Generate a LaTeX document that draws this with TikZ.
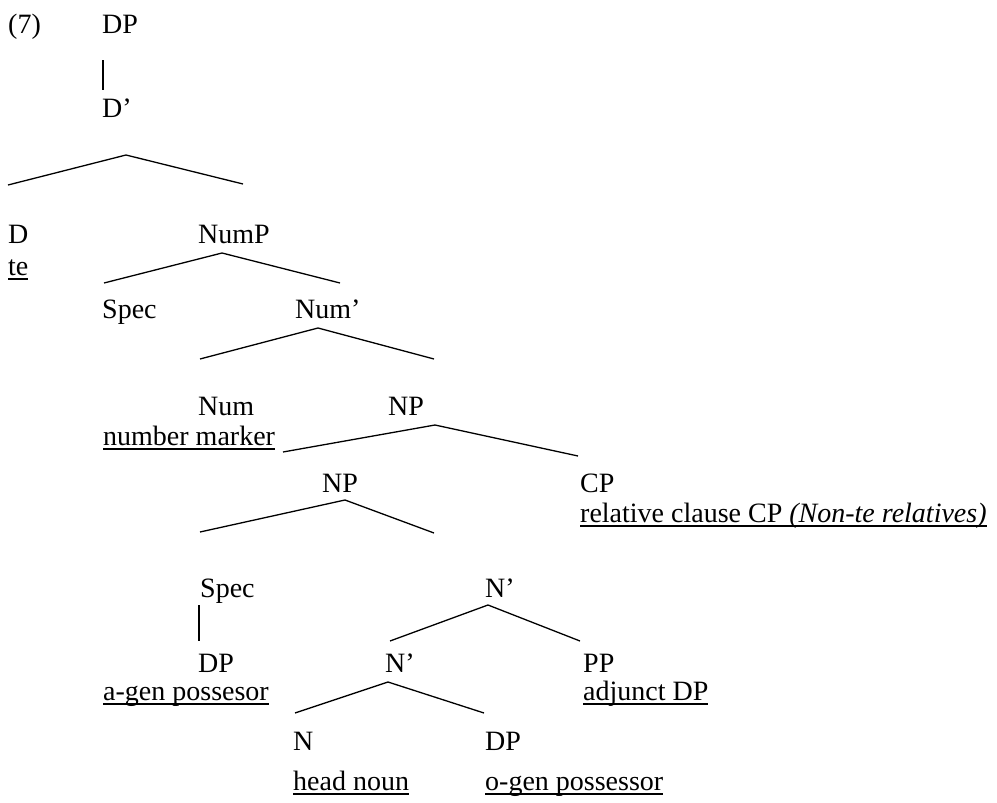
\documentclass[tikz,border=0pt]{standalone}
\usepackage{fontspec}
\setmainfont{Liberation Serif}
% underline drawn at a fixed depth below the baseline
\newcommand{\undl}[1]{\setbox0\hbox{#1}\rlap{\rule[-4.5pt]{\wd0}{1.3pt}}\box0}
\begin{document}
\begin{tikzpicture}[x=1pt,y=-1pt,
  lbl/.style={anchor=base west,inner sep=0pt,font=\fontsize{28}{33}\selectfont},
  branch/.style={line width=1.3pt,line join=miter}]
\useasboundingbox (0,0) rectangle (997,803);

% labels
\node[lbl] (ex)     at (8,33)    {(7)};
\node[lbl] (dp)     at (102,33)  {DP};
\node[lbl] (dbar)   at (102,117) {D’};
\node[lbl] (d)      at (8,243)   {D};
\node[lbl] (te)     at (8,275)   {\undl{te}};
\node[lbl] (nump)   at (198,243) {NumP};
\node[lbl] (spec1)  at (102,318) {Spec};
\node[lbl] (numbar) at (295,318) {Num’};
\node[lbl] (num)    at (198,415) {Num};
\node[lbl] (nummk)  at (103,445) {\undl{number marker}};
\node[lbl] (np1)    at (388,415) {NP};
\node[lbl] (np2)    at (322,492) {NP};
\node[lbl] (cp)     at (580,492) {CP};
\node[lbl] (rel)    at (580,522) {\undl{relative clause CP \textit{(Non-te relatives)}}};
\node[lbl] (spec2)  at (200,597) {Spec};
\node[lbl] (nbar1)  at (485,597) {N’};
\node[lbl] (dp2)    at (198,672) {DP};
\node[lbl] (agen)   at (103,700) {\undl{a-gen possesor}};
\node[lbl] (nbar2)  at (385,672) {N’};
\node[lbl] (pp)     at (583,672) {PP};
\node[lbl] (adj)    at (583,700) {\undl{adjunct DP}};
\node[lbl] (n)      at (293,750) {N};
\node[lbl] (dp3)    at (485,750) {DP};
\node[lbl] (head)   at (293,790) {\undl{head noun}};
\node[lbl] (ogen)   at (485,790) {\undl{o-gen possessor}};

% unary branches
\coordinate (dp-bot)    at (103,60);
\coordinate (dbar-top)  at (103,90);
\draw[branch] (dp-bot) -- (dbar-top);
\coordinate (spec2-bot) at (199,605);
\coordinate (dp2-top)   at (199,641);
\draw[branch] (spec2-bot) -- (dp2-top);

% binary branches
\coordinate (b1) at (126,155); \coordinate (b1l) at (8,185);   \coordinate (b1r) at (243,184);
\draw[branch] (b1l) -- (b1) -- (b1r);
\coordinate (b2) at (222,253); \coordinate (b2l) at (104,283); \coordinate (b2r) at (340,283);
\draw[branch] (b2l) -- (b2) -- (b2r);
\coordinate (b3) at (318,328); \coordinate (b3l) at (200,359); \coordinate (b3r) at (434,359);
\draw[branch] (b3l) -- (b3) -- (b3r);
\coordinate (b4) at (435,425); \coordinate (b4l) at (283,452); \coordinate (b4r) at (578,456);
\draw[branch] (b4l) -- (b4) -- (b4r);
\coordinate (b5) at (345,500); \coordinate (b5l) at (200,532); \coordinate (b5r) at (434,533);
\draw[branch] (b5l) -- (b5) -- (b5r);
\coordinate (b6) at (488,605); \coordinate (b6l) at (390,641); \coordinate (b6r) at (580,641);
\draw[branch] (b6l) -- (b6) -- (b6r);
\coordinate (b7) at (388,682); \coordinate (b7l) at (295,713); \coordinate (b7r) at (484,713);
\draw[branch] (b7l) -- (b7) -- (b7r);
\end{tikzpicture}
\end{document}
